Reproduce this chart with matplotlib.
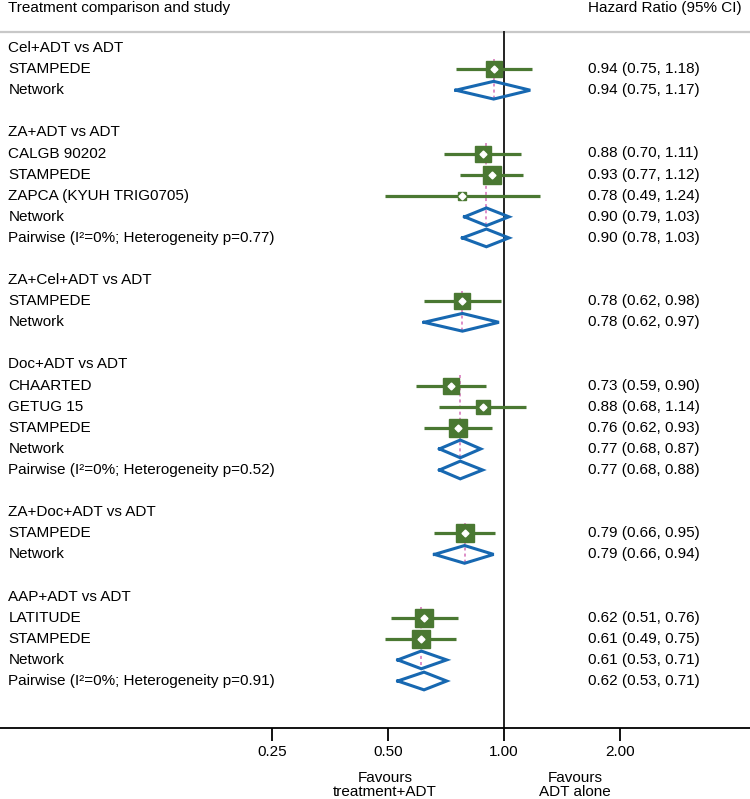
import numpy as np
import matplotlib.pyplot as plt
from matplotlib import transforms
from matplotlib.ticker import NullLocator

plt.rcParams['font.family'] = ['Liberation Sans', 'DejaVu Sans']

# one entry per row of the forest plot ('' = blank spacer row)
row_labels = [
    "Cel+ADT vs ADT", "STAMPEDE", "Network", "",
    "ZA+ADT vs ADT", "CALGB 90202", "STAMPEDE", "ZAPCA (KYUH TRIG0705)", "Network",
    "Pairwise (I\u00b2=0%; Heterogeneity p=0.77)", "",
    "ZA+Cel+ADT vs ADT", "STAMPEDE", "Network", "",
    "Doc+ADT vs ADT", "CHAARTED", "GETUG 15", "STAMPEDE", "Network",
    "Pairwise (I\u00b2=0%; Heterogeneity p=0.52)", "",
    "ZA+Doc+ADT vs ADT", "STAMPEDE", "Network", "",
    "AAP+ADT vs ADT", "LATITUDE", "STAMPEDE", "Network",
    "Pairwise (I\u00b2=0%; Heterogeneity p=0.91)",
]
# h = group heading, s = single study, n = network estimate, p = pairwise estimate
row_kind = [
    'h', 's', 'n', '',
    'h', 's', 's', 's', 'n', 'p', '',
    'h', 's', 'n', '',
    'h', 's', 's', 's', 'n', 'p', '',
    'h', 's', 'n', '',
    'h', 's', 's', 'n', 'p',
]
nan = np.nan
hr = [nan, 0.94, 0.94, nan,
      nan, 0.88, 0.93, 0.78, 0.90, 0.90, nan,
      nan, 0.78, 0.78, nan,
      nan, 0.73, 0.88, 0.76, 0.77, 0.77, nan,
      nan, 0.79, 0.79, nan,
      nan, 0.62, 0.61, 0.61, 0.62]
ci_low = [nan, 0.75, 0.75, nan,
          nan, 0.70, 0.77, 0.49, 0.79, 0.78, nan,
          nan, 0.62, 0.62, nan,
          nan, 0.59, 0.68, 0.62, 0.68, 0.68, nan,
          nan, 0.66, 0.66, nan,
          nan, 0.51, 0.49, 0.53, 0.53]
ci_high = [nan, 1.18, 1.17, nan,
           nan, 1.11, 1.12, 1.24, 1.03, 1.03, nan,
           nan, 0.98, 0.97, nan,
           nan, 0.90, 1.14, 0.93, 0.87, 0.88, nan,
           nan, 0.95, 0.94, nan,
           nan, 0.76, 0.75, 0.71, 0.71]
# relative study weight (drives square size), study rows in order
study_weight = [80, 71, 100, 22, 80, 80, 62, 90, 100, 90, 90]

xticks = [0.25, 0.5, 1.0, 2.0]
xtick_labels = ["0.25", "0.50", "1.00", "2.00"]

green = '#4a7832'
blue = '#1768b1'
pink = '#d56fb8'
fs = 11

fig = plt.figure(figsize=(7.5, 7.99), dpi=100)
ax = fig.add_axes([0, 71 / 799, 1, 728 / 799])

ax.set_xscale('log', base=2)
ax.set_xlim(2 ** (-504 / 116), 2 ** (246 / 116))
row_h = 21.1
y_top = -48 / row_h
y_bot = (728 - 48) / row_h
ax.set_ylim(y_bot, y_top)

for s in ['top', 'left', 'right']:
    ax.spines[s].set_visible(False)
ax.spines['bottom'].set_linewidth(1.3)
ax.set_yticks([])
ax.set_xticks(xticks)
ax.set_xticklabels(xtick_labels, fontsize=fs)
ax.xaxis.set_minor_locator(NullLocator())
ax.tick_params(axis='x', length=9, width=1.3, pad=3)

sep_y = (32 - 48) / row_h
ax.axhline(sep_y, color='#c8c8c8', lw=1.6)
ax.plot([1, 1], [sep_y, y_bot], color='#222222', lw=1.4, zorder=2)

trans = transforms.blended_transform_factory(ax.transAxes, ax.transData)
ax.text(0.011, (8 - 48) / row_h, "Treatment comparison and study", transform=trans,
        fontsize=fs, va='center')
ax.text(0.784, (8 - 48) / row_h, "Hazard Ratio (95% CI)", transform=trans,
        fontsize=fs, va='center')

# pink reference line through each group's network estimate
first_study = None
for k, kind in enumerate(row_kind):
    if kind == 's' and first_study is None:
        first_study = k
    if kind == 'n':
        ax.plot([hr[k], hr[k]], [first_study - 0.5, k + 0.45], color=pink,
                lw=1.1, ls=(0, (2, 2)), zorder=1)
        first_study = None

wi = 0
for k, kind in enumerate(row_kind):
    if kind == '':
        continue
    ax.text(0.011, k, row_labels[k], transform=trans, fontsize=fs, va='center')
    if kind == 'h':
        continue
    ax.text(0.784, k, f"{hr[k]:.2f} ({ci_low[k]:.2f}, {ci_high[k]:.2f})",
            transform=trans, fontsize=fs, va='center')
    if kind == 's':
        side = 19 * np.sqrt(study_weight[wi] / 100) / 1.389
        wi += 1
        ax.plot([ci_low[k], ci_high[k]], [k, k], color=green, lw=2.3,
                solid_capstyle='butt', zorder=3)
        ax.plot(hr[k], k, 's', ms=side, color=green, mec=green, zorder=4)
        ax.plot(hr[k], k, 'D', ms=3.5, color='white', mec='white', zorder=5)
    else:
        ax.plot([ci_low[k], hr[k], ci_high[k], hr[k], ci_low[k]],
                [k, k - 0.42, k, k + 0.42, k], color=blue, lw=2.2,
                solid_joinstyle='miter', zorder=3)

fig.text(385 / 750, 1 - 785 / 799, "Favours\ntreatment+ADT", ha='center',
         va='center', fontsize=fs, linespacing=1.0)
fig.text(575 / 750, 1 - 785 / 799, "Favours\nADT alone", ha='center',
         va='center', fontsize=fs, linespacing=1.0)

fig.savefig('out.png', dpi=100)
